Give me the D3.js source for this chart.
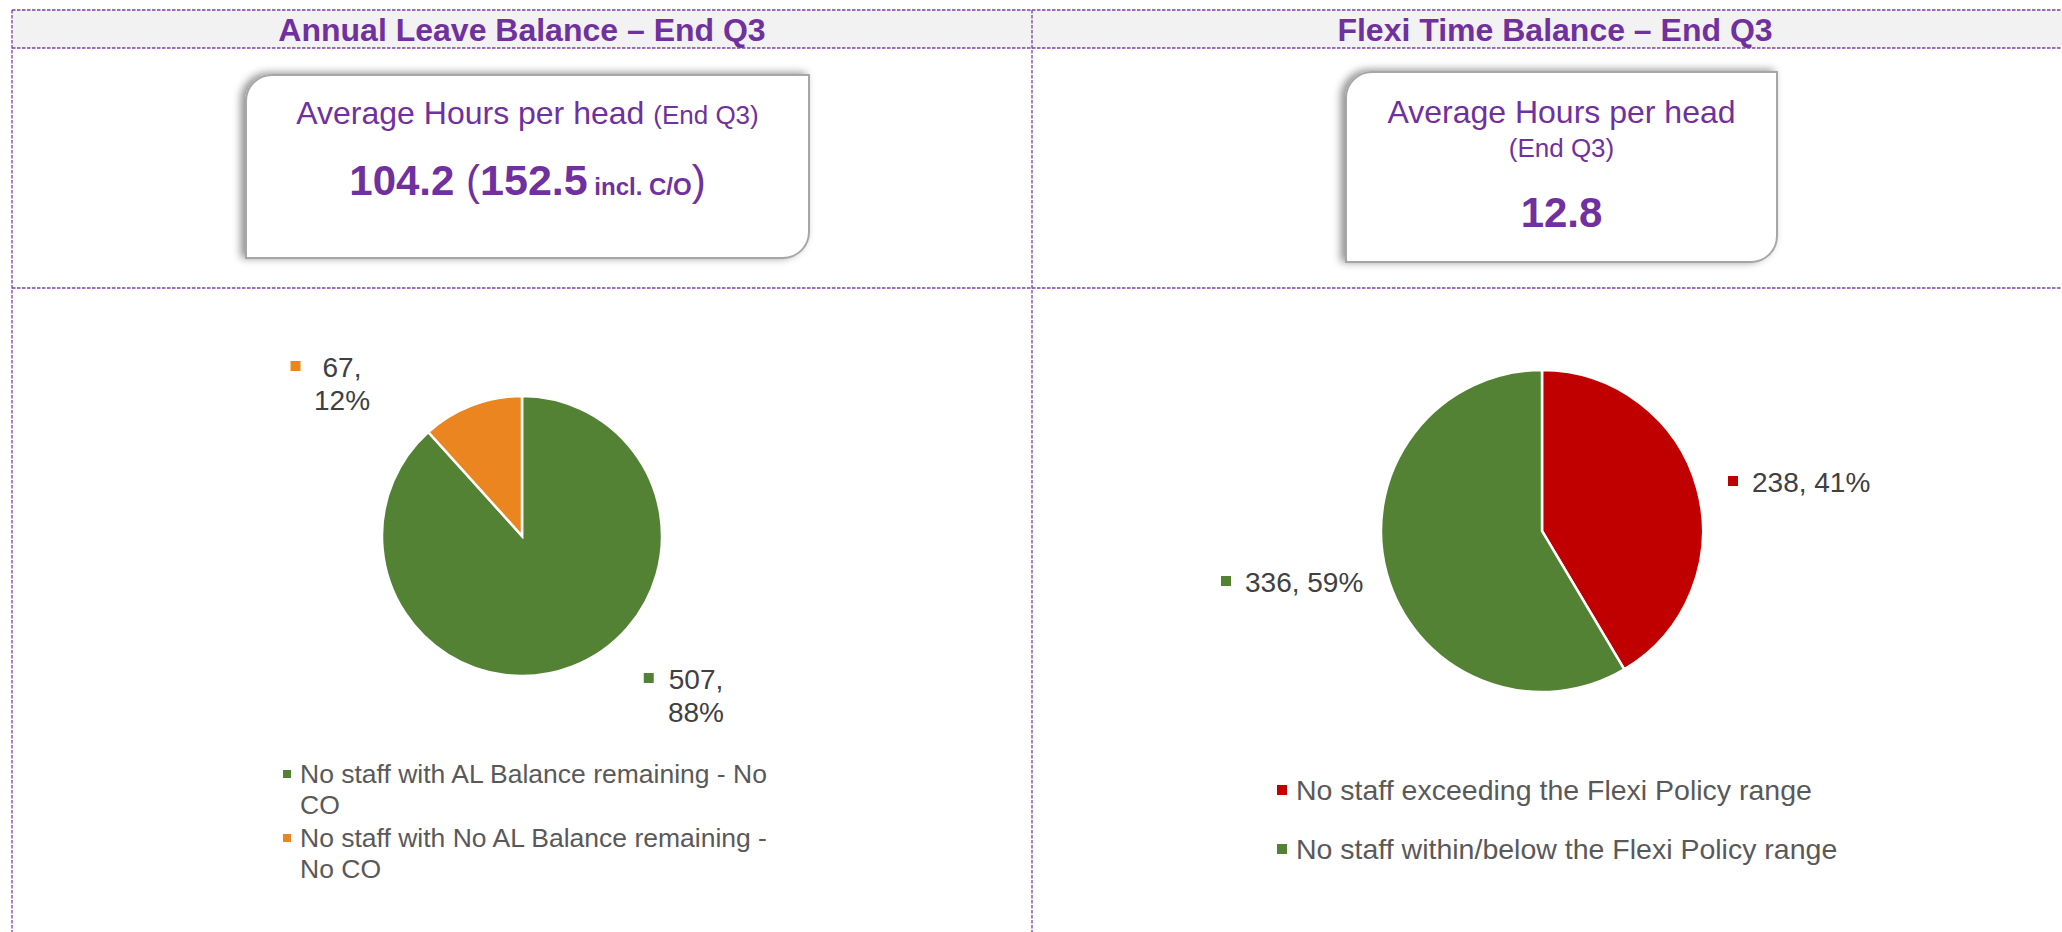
<!DOCTYPE html>
<html>
<head>
<meta charset="utf-8">
<script src="https://cdn.jsdelivr.net/npm/d3@7"></script>
<style>
body { margin:0; background:#fff; }
svg { display:block; font-family:"Liberation Sans", Arial, sans-serif; }
</style>
</head>
<body>
<div class="board"></div>
<script>
// data
const panelTitles = ["Annual Leave Balance – End Q3", "Flexi Time Balance – End Q3"];

const alCategories = ["No staff with AL Balance remaining - No CO", "No staff with No AL Balance remaining - No CO"];
const alValues = [507, 67];
const alColors = ["#548235", "#ea8520"];

const flexiCategories = ["No staff exceeding the Flexi Policy range", "No staff within/below the Flexi Policy range"];
const flexiValues = [238, 336];
const flexiColors = ["#c00000", "#548235"];

const avgLeave = 104.2, avgLeaveInclCO = 152.5, avgFlexi = 12.8;

const width = 2062, height = 932;
const purple = "#7030a0";
const colX = [12, 1032, 2078];
const headTop = 10, headBottom = 48, rowY = 288;

const svg = d3.select(".board")
    .append("svg")
    .attr("width", width)
    .attr("height", height);

const defs = svg.append("defs");
defs.append("filter")
    .attr("id", "shadow")
    .attr("x", "-10%").attr("y", "-15%").attr("width", "120%").attr("height", "130%")
    .append("feDropShadow")
    .attr("dx", -4).attr("dy", -1)
    .attr("stdDeviation", 4)
    .attr("flood-color", "#000")
    .attr("flood-opacity", 0.45);

// header band
svg.append("rect")
    .attr("x", colX[0]).attr("y", headTop)
    .attr("width", width - colX[0]).attr("height", headBottom - headTop)
    .attr("fill", "#f2f2f2");

// dashed grid of the table
const hLines = [headTop, headBottom, rowY];
const vLines = [colX[0], colX[1]];
const grid = svg.append("g")
    .attr("stroke", "#7b3fb0")
    .attr("stroke-width", 1.3)
    .attr("stroke-dasharray", "3.5,1.5");
grid.selectAll("line.h")
    .data(hLines)
    .join("line")
    .attr("class", "h")
    .attr("x1", colX[0]).attr("x2", width)
    .attr("y1", d => d).attr("y2", d => d);
grid.selectAll("line.v")
    .data(vLines)
    .join("line")
    .attr("class", "v")
    .attr("x1", d => d).attr("x2", d => d)
    .attr("y1", headTop).attr("y2", height);

// panel titles
svg.selectAll("text.title")
    .data(panelTitles)
    .join("text")
    .attr("class", "title")
    .attr("x", (d, i) => (colX[i] + colX[i + 1]) / 2)
    .attr("y", 41)
    .attr("text-anchor", "middle")
    .attr("font-size", 32)
    .attr("font-weight", "bold")
    .attr("fill", purple)
    .text(d => d);

// diagonal-rounded box, top-left and bottom-right corners curved
function boxPath(x, y, w, h, r) {
    const p = d3.path();
    p.moveTo(x + r, y);
    p.lineTo(x + w, y);
    p.lineTo(x + w, y + h - r);
    p.arcTo(x + w, y + h, x + w - r, y + h, r);
    p.lineTo(x, y + h);
    p.lineTo(x, y + r);
    p.arcTo(x, y, x + r, y, r);
    p.closePath();
    return p.toString();
}

function drawBox(x, y, w, h) {
    svg.append("path")
        .attr("d", boxPath(x, y, w, h, 26))
        .attr("fill", "#fff")
        .attr("stroke", "#a6a6a6")
        .attr("stroke-width", 2)
        .attr("filter", "url(#shadow)");
    return x + w / 2;
}

// left box
const cxL = drawBox(246, 75, 563, 183);
const t1 = svg.append("text")
    .attr("x", cxL).attr("y", 124)
    .attr("text-anchor", "middle")
    .attr("fill", purple);
t1.append("tspan").attr("font-size", 32).text("Average Hours per head ");
t1.append("tspan").attr("font-size", 26).text("(End Q3)");

const t2 = svg.append("text")
    .attr("x", cxL).attr("y", 195)
    .attr("text-anchor", "middle")
    .attr("fill", purple);
t2.append("tspan").attr("font-size", 42).attr("font-weight", "bold").text(avgLeave.toFixed(1) + " ");
t2.append("tspan").attr("font-size", 42).text("(");
t2.append("tspan").attr("font-size", 43).attr("font-weight", "bold").text(avgLeaveInclCO.toFixed(1));
t2.append("tspan").attr("font-size", 24).attr("font-weight", "bold").text(" incl. C/O");
t2.append("tspan").attr("font-size", 42).text(")");

// right box
const cxR = drawBox(1346, 72, 431, 190);
svg.append("text")
    .attr("x", cxR).attr("y", 123)
    .attr("text-anchor", "middle")
    .attr("font-size", 32)
    .attr("fill", purple)
    .text("Average Hours per head");
svg.append("text")
    .attr("x", cxR).attr("y", 157)
    .attr("text-anchor", "middle")
    .attr("font-size", 26)
    .attr("fill", purple)
    .text("(End Q3)");
svg.append("text")
    .attr("x", cxR).attr("y", 227)
    .attr("text-anchor", "middle")
    .attr("font-size", 42)
    .attr("font-weight", "bold")
    .attr("fill", purple)
    .text(avgFlexi.toFixed(1));

// pies
const pie = d3.pie().sort(null).value(d => d);

function drawPie(values, colors, cx, cy, r, labels) {
    const total = d3.sum(values);
    const arc = d3.arc().innerRadius(0).outerRadius(r);
    const g = svg.append("g").attr("transform", `translate(${cx},${cy})`);
    g.selectAll("path")
        .data(pie(values))
        .join("path")
        .attr("d", arc)
        .attr("fill", (d, i) => colors[i])
        .attr("stroke", "#fff")
        .attr("stroke-width", 2.5);

    // data labels: value, percentage with colour key
    labels.forEach((lb, i) => {
        const v = values[i];
        const pct = Math.round(v / total * 100) + "%";
        const lines = lb.wrap ? [v + ",", pct] : [v + ", " + pct];
        const txt = g.append("text")
            .attr("font-size", 28)
            .attr("fill", "#404040")
            .attr("text-anchor", lb.wrap ? "middle" : "start");
        lines.forEach((s, k) => {
            txt.append("tspan")
                .attr("x", lb.dx)
                .attr("y", lb.dy + k * 32.5)
                .text(s);
        });
        const firstW = txt.select("tspan").node().getComputedTextLength();
        const left = lb.wrap ? lb.dx - firstW / 2 : lb.dx;
        g.append("rect")
            .attr("x", left - lb.gap)
            .attr("y", lb.dy - 16)
            .attr("width", 10).attr("height", 10)
            .attr("fill", colors[i]);
    });
}

drawPie(alValues, alColors, 522, 536, 140, [
    {dx: 174, dy: 153, wrap: true, gap: 25},
    {dx: -180, dy: -159, wrap: true, gap: 32}
]);
drawPie(flexiValues, flexiColors, 1542, 531, 161, [
    {dx: 210, dy: -39, wrap: false, gap: 24},
    {dx: -297, dy: 61, wrap: false, gap: 24}
]);

// legends
function wrapLines(str, maxW, size) {
    const tmp = svg.append("text").attr("font-size", size);
    const words = str.split(" ");
    const lines = [];
    let cur = "";
    words.forEach(w => {
        const test = cur ? cur + " " + w : w;
        tmp.text(test);
        if (tmp.node().getComputedTextLength() > maxW && cur) {
            lines.push(cur);
            cur = w;
        } else cur = test;
    });
    lines.push(cur);
    tmp.remove();
    return lines;
}

function drawLegend(cats, colors, x, y, size, maxW, lineH, itemGap, keySize) {
    let yy = y;
    cats.forEach((c, i) => {
        const lines = wrapLines(c, maxW, size);
        svg.append("rect")
            .attr("x", x).attr("y", yy - keySize - Math.round(size * 0.17))
            .attr("width", keySize).attr("height", keySize)
            .attr("fill", colors[i]);
        const t = svg.append("text")
            .attr("font-size", size)
            .attr("fill", "#595959");
        lines.forEach((s, k) => {
            t.append("tspan")
                .attr("x", x + keySize + 9)
                .attr("y", yy + k * lineH)
                .text(s);
        });
        yy += lines.length * lineH + itemGap;
    });
}

drawLegend(alCategories, alColors, 283, 783, 26.5, 490, 31, 2, 8);
drawLegend(flexiCategories, flexiColors, 1277, 800, 28.5, 700, 59, 0, 10);
</script>
</body>
</html>
